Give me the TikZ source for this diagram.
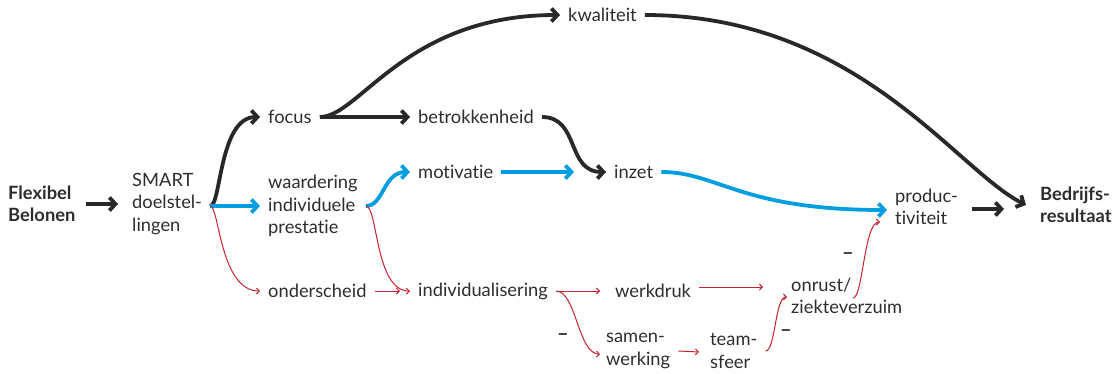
\documentclass[tikz,border=0pt]{standalone}
\usepackage{fontspec}
\setmainfont{Lato}[Ligatures=NoCommon]
\usetikzlibrary{arrows.meta,calc}
\definecolor{loncolor0000}{RGB}{40,40,40}
\definecolor{loncolor0001}{RGB}{0,158,224}
\definecolor{loncolor0002}{RGB}{196,36,48}
\definecolor{loncolor0003}{RGB}{45,45,45}
\begin{document}
\begin{tikzpicture}[yscale=-1,x=1pt,y=1pt
,tstyle0/.style={anchor=west,align=left,inner xsep=8pt,inner ysep=2pt,text=loncolor0003,font=\fontsize{18.3}{22.5}\selectfont}
,tstyle1/.style={tstyle0,font=\fontsize{18.3}{22.5}\selectfont\bfseries}
,tstyle2/.style={tstyle0,font=\fontsize{20}{22.5}\selectfont\bfseries}
,astyle0/.style={color=loncolor0000,line width=3.8pt,-{Straight Barb[length=6pt,width=13pt]}}
,astyle1/.style={color=loncolor0001,line width=3.8pt,-{Straight Barb[length=6pt,width=13pt]}}
,astyle2/.style={color=loncolor0002,line width=1pt,-{Straight Barb[length=3pt,width=6pt]}}
]
\useasboundingbox (0,0) rectangle (1113,373);
% begrippen
\node[tstyle1] (flex) at (0,204) {Flexibel\\Belonen};
\node[tstyle0] (smart) at (124,204) {SMART\\doelstel-\\lingen};
\node[tstyle0] (focus) at (260,117) {focus};
\node[tstyle0] (waard) at (260,206) {waardering\\individuele\\prestatie};
\node[tstyle0] (onder) at (260,291) {onderscheid};
\node[tstyle0] (kwal) at (560,15) {kwaliteit};
\node[tstyle0] (betr) at (410,117) {betrokkenheid};
\node[tstyle0] (motiv) at (410,172) {motivatie};
\node[tstyle0] (inzet) at (606,172) {inzet};
\node[tstyle0] (prod) at (887,207) {produc-\\tiviteit};
\node[tstyle1] (bedr) at (1032,205) {Bedrijfs-\\resultaat};
\node[tstyle0] (indiv) at (410,291) {individualisering};
\node[tstyle0] (werk) at (607,291) {werkdruk};
\node[tstyle0] (samen) at (598,351) {samen-\\werking};
\node[tstyle0] (team) at (702,351) {team-\\sfeer};
\node[tstyle0] (onrust) at (783,296) {onrust/\\ziekteverzuim};
\node[tstyle2] (min1) at (549,337) {--};
\node[tstyle2] (min2) at (772,333) {--};
\node[tstyle2] (min3) at (834,256) {--};
\coordinate (split) at ($(smart.east)+(0,2)$);
% zwart
\draw[astyle0,shorten <=2pt,shorten >=6pt] (flex.east) -- (smart.west);
\draw[astyle0] (split) .. controls +(11,0) and +(-41,0) .. (focus.west);
\draw[astyle0] (focus.east) .. controls +(40,0) and +(-155,0) .. (kwal.west);
\draw[astyle0] (focus.east) -- (betr.west);
\draw[astyle0] (betr.east) .. controls +(38,0) and +(-40,0) .. (inzet.west);
\draw[astyle0] (kwal.east) .. controls +(212,0) and +(-70,-35) .. ($(bedr.west)+(-6,0)$);
\draw[astyle0,shorten <=6pt,shorten >=28pt] ($(prod.east)+(0,2)$) -- ($(bedr.west)+(0,4)$);
% blauw
\draw[astyle1] (split) -- (waard.west);
\draw[astyle1] (waard.east) .. controls +(18,0) and +(-27,0) .. (motiv.west);
\draw[astyle1,shorten >=32pt] (motiv.east) -- (inzet.west);
\draw[astyle1] (inzet.east) .. controls +(57,0) and +(-147,0) .. ($(prod.west)+(0,3)$);
% rood
\draw[astyle2] (split) .. controls +(9,0) and +(-40,0) .. (onder.west);
\draw[astyle2] (waard.east) .. controls +(12,0) and +(-35,0) .. (indiv.west);
\draw[astyle2,shorten >=10pt] (onder.east) -- (indiv.west);
\draw[astyle2,shorten >=7pt] (indiv.east) -- (werk.west);
\draw[astyle2] (indiv.east) .. controls +(20,0) and +(-22,0) .. ($(samen.west)+(2,3)$);
\draw[astyle2] ($(werk.east)+(0,-4)$) -- ($(onrust.west)+(-20,-9)$);
\draw[astyle2] (samen.east) -- ($(team.west)+(-3,1)$);
\draw[astyle2] (team.east) .. controls +(10,0) and +(-12,0) .. ($(onrust.west)+(4,1)$);
\draw[astyle2] ($(onrust.west)+(70,2)$) .. controls +(10,0) and +(-16,0) .. ($(prod.west)+(-7,15)$);
\end{tikzpicture}
\end{document}
